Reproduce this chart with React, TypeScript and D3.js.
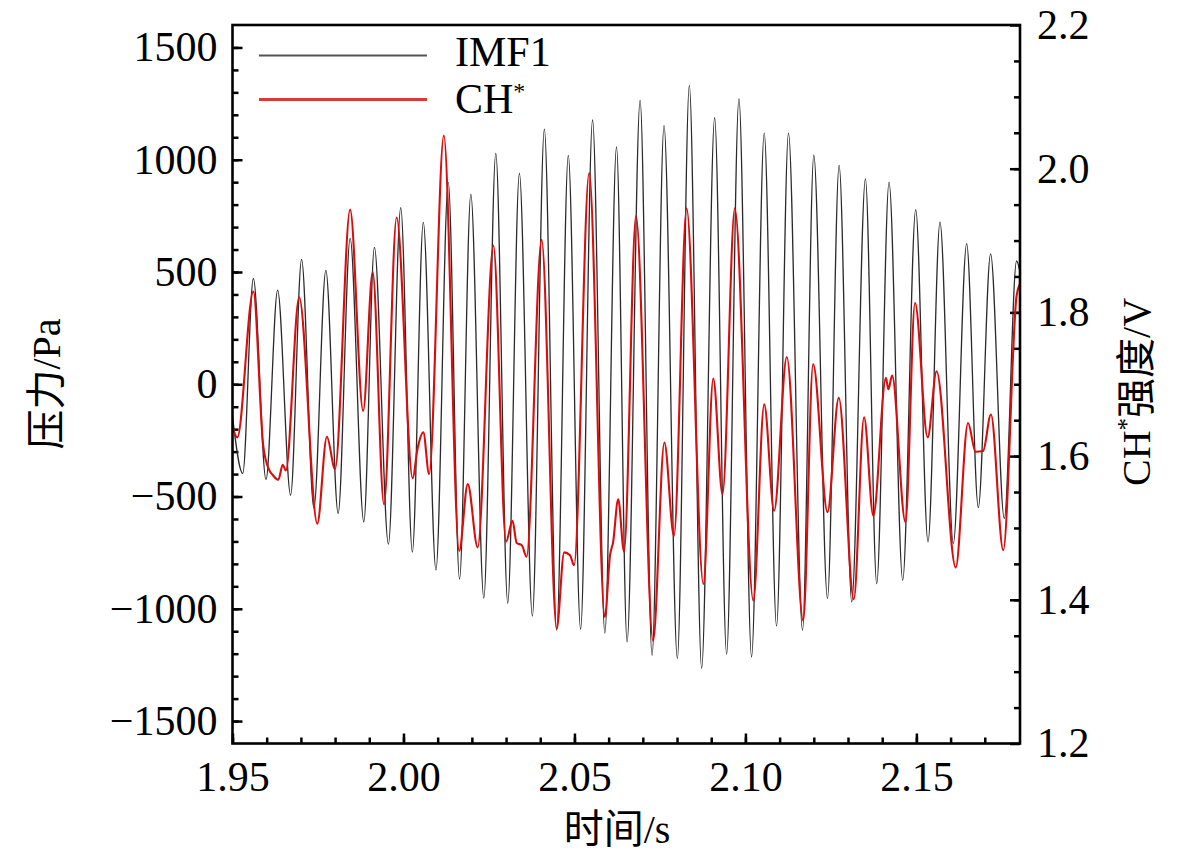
import { useRef, useEffect } from 'react';
import * as d3 from 'd3';

// IMF1 pressure component (Pa): extrema
const imfTime = [
  1.95, 1.953, 1.9561, 1.9598, 1.9632, 1.967, 1.9702, 1.9738, 1.9773, 1.9809,
  1.9844, 1.9884, 1.9915, 1.9956, 1.9992, 2.0026, 2.0058, 2.0095, 2.0131, 2.0164,
  2.0197, 2.0235, 2.027, 2.0305, 2.0339, 2.0377, 2.0412, 2.0448, 2.0482, 2.0518,
  2.0553, 2.0589, 2.0623, 2.0654, 2.0692, 2.0727, 2.0762, 2.0801, 2.0836, 2.0872,
  2.091, 2.0945, 2.0981, 2.1018, 2.1055, 2.1091, 2.1126, 2.1167, 2.12, 2.124,
  2.1274, 2.1311, 2.1351, 2.1384, 2.142, 2.146, 2.1498, 2.1534, 2.1569, 2.1608,
  2.1647, 2.1681, 2.1717, 2.1757, 2.1793, 2.1803,
];
const imfValue = [
  -144, -397, 471, -424, 419, -494, 556, -551, 507, -575,
  650, -613, 610, -712, 787, -747, 721, -828, 899, -868,
  847, -952, 1028, -975, 939, -1032, 1136, -1095, 1019, -1091,
  1177, -1108, 1057, -1147, 1264, -1207, 1152, -1221, 1331, -1265,
  1187, -1202, 1271, -1214, 1118, -1077, 1118, -1095, 1020, -954,
  975, -969, 915, -888, 900, -873, 778, -702, 722, -709,
  626, -549, 581, -598, 549, 500,
];

// CH* intensity (V)
const chTime = [
  1.95, 1.9514, 1.9561, 1.959, 1.9608, 1.9619, 1.9634, 1.9647, 1.9656, 1.9695,
  1.9748, 1.9776, 1.98, 1.9844, 1.9882, 1.991, 1.9943, 1.998, 2.0027, 2.0041,
  2.0058, 2.0075, 2.0118, 2.0163, 2.0188, 2.0217, 2.0263, 2.03, 2.0319, 2.0331,
  2.0346, 2.036, 2.0404, 2.0448, 2.047, 2.0487, 2.0499, 2.0543, 2.0589, 2.0604,
  2.0613, 2.0628, 2.0645, 2.068, 2.073, 2.0763, 2.0791, 2.0828, 2.0877, 2.0906,
  2.0933, 2.0969, 2.1023, 2.1055, 2.1084, 2.1121, 2.1169, 2.1198, 2.124, 2.1273,
  2.1317, 2.1347, 2.1374, 2.1411, 2.1418, 2.1429, 2.1468, 2.1496, 2.1533, 2.1559,
  2.1615, 2.1651, 2.1673, 2.1695, 2.1718, 2.1754, 2.1793, 2.1803,
];
const chValue = [
  1.64, 1.626, 1.829, 1.614, 1.58, 1.573, 1.567, 1.588, 1.58, 1.821,
  1.506, 1.627, 1.582, 1.943, 1.663, 1.856, 1.533, 1.932, 1.569, 1.61,
  1.633, 1.575, 2.046, 1.468, 1.561, 1.473, 1.893, 1.481, 1.51, 1.479,
  1.476, 1.46, 1.901, 1.36, 1.466, 1.462, 1.448, 1.994, 1.376, 1.462,
  1.48, 1.54, 1.467, 1.934, 1.343, 1.619, 1.489, 1.945, 1.422, 1.708,
  1.547, 1.945, 1.399, 1.672, 1.524, 1.738, 1.371, 1.728, 1.522, 1.681,
  1.401, 1.654, 1.517, 1.709, 1.693, 1.712, 1.508, 1.813, 1.626, 1.718,
  1.445, 1.646, 1.606, 1.607, 1.658, 1.469, 1.823, 1.84,
];

const xTicks = [1.95, 2.0, 2.05, 2.1, 2.15];
const leftTicks = [-1500, -1000, -500, 0, 500, 1000, 1500];
const rightTicks = [1.2, 1.4, 1.6, 1.8, 2.0, 2.2];

const SERIF = '"Liberation Serif", "Times New Roman", serif';
const CJK = '"Noto Sans CJK SC", sans-serif';

export default function App() {
  const svgRef = useRef<SVGSVGElement>(null);

  useEffect(() => {
    if (!svgRef.current) return;
    const svg = d3.select(svgRef.current);
    svg.selectAll('*').remove();

    const m = { left: 232.5, right: 1020, top: 25, bottom: 743.5 };

    const x = d3.scaleLinear().domain([1.95, 2.1803]).range([m.left, m.right]);
    const yL = d3.scaleLinear().domain([-1600, 1600]).range([m.bottom, m.top]);
    const yR = d3.scaleLinear().domain([1.2, 2.2]).range([m.bottom, m.top]);

    svg.append('defs').append('clipPath').attr('id', 'plot-clip')
      .append('rect')
      .attr('x', m.left).attr('y', m.top)
      .attr('width', m.right - m.left).attr('height', m.bottom - m.top);

    const styleAxis = (g: any) => {
      g.select('.domain').remove();
      g.selectAll('line').attr('stroke', '#000').attr('stroke-width', 2.5);
      g.selectAll('text').attr('fill', '#000').style('font-family', SERIF).style('font-size', '42px');
    };

    // minor ticks
    const xMinor = d3.range(0, 24).map(i => 1.95 + i * 0.01).filter(v => v < 2.18);
    const lMinor = d3.range(-15, 16).map(i => i * 100);
    const rMinor = d3.range(1, 20).map(i => 1.2 + i * 0.05);

    svg.append('g').attr('transform', `translate(0,${m.bottom})`)
      .call(d3.axisBottom(x).tickValues(xMinor).tickSize(-6).tickFormat(() => ''))
      .call(styleAxis);
    svg.append('g').attr('transform', `translate(${m.left},0)`)
      .call(d3.axisLeft(yL).tickValues(lMinor).tickSize(-6).tickFormat(() => ''))
      .call(styleAxis);
    svg.append('g').attr('transform', `translate(${m.right},0)`)
      .call(d3.axisRight(yR).tickValues(rMinor).tickSize(-6).tickFormat(() => ''))
      .call(styleAxis);

    // major ticks + labels
    svg.append('g').attr('transform', `translate(0,${m.bottom})`)
      .call(d3.axisBottom(x).tickValues(xTicks).tickSize(-10).tickPadding(18).tickFormat(d3.format('.2f') as any))
      .call(styleAxis);
    svg.append('g').attr('transform', `translate(${m.left},0)`)
      .call(d3.axisLeft(yL).tickValues(leftTicks).tickSize(-10).tickPadding(15).tickFormat(d3.format('d') as any))
      .call(styleAxis);
    svg.append('g').attr('transform', `translate(${m.right},0)`)
      .call(d3.axisRight(yR).tickValues(rightTicks).tickSize(-10).tickPadding(17).tickFormat(d3.format('.1f') as any))
      .call(styleAxis);

    // series
    const plot = svg.append('g').attr('clip-path', 'url(#plot-clip)');

    const imfLine = d3.line<number>()
      .x((_, i) => x(imfTime[i]))
      .y(d => yL(d))
      .curve(d3.curveMonotoneX);
    plot.append('path')
      .attr('d', imfLine(imfValue) as string)
      .attr('fill', 'none')
      .attr('stroke', '#2a2a2a')
      .attr('stroke-width', 1.3);

    const chLine = d3.line<number>()
      .x((_, i) => x(chTime[i]))
      .y(d => yR(d))
      .curve(d3.curveMonotoneX);
    plot.append('path')
      .attr('d', chLine(chValue) as string)
      .attr('fill', 'none')
      .attr('stroke', '#d80d0d')
      .attr('stroke-width', 2.1);

    // frame
    svg.append('rect')
      .attr('x', m.left).attr('y', m.top)
      .attr('width', m.right - m.left).attr('height', m.bottom - m.top)
      .attr('fill', 'none').attr('stroke', '#000').attr('stroke-width', 2.6);

    // legend
    const legend = svg.append('g').attr('font-family', SERIF).attr('font-size', 42);
    legend.append('line').attr('x1', 259).attr('x2', 427).attr('y1', 55.5).attr('y2', 55.5)
      .attr('stroke', '#555').attr('stroke-width', 2);
    legend.append('text').attr('x', 455).attr('y', 66).text('IMF1');
    legend.append('line').attr('x1', 259).attr('x2', 427).attr('y1', 99.5).attr('y2', 99.5)
      .attr('stroke', '#d83a3a').attr('stroke-width', 3);
    const chLbl = legend.append('text').attr('x', 455).attr('y', 113);
    chLbl.append('tspan').text('CH');
    chLbl.append('tspan').attr('dy', -14).attr('font-size', 24).text('*');

    // axis titles: CJK and Latin parts in separate tspans so each gets its own face
    const title = (t: any, parts: { s: string; cjk?: boolean; sup?: boolean }[]) => {
      let raised = false;
      parts.forEach(p => {
        const ts = t.append('tspan')
          .attr('font-family', p.cjk ? CJK : SERIF)
          .text(p.s);
        if (p.sup) { ts.attr('dy', -15).attr('font-size', 25); raised = true; }
        else if (raised) { ts.attr('dy', 15); raised = false; }
      });
    };

    const bt = svg.append('text')
      .attr('x', 617).attr('y', 843)
      .attr('text-anchor', 'middle')
      .attr('font-family', SERIF).attr('font-size', 40);
    title(bt, [{ s: '时间', cjk: true }, { s: '/s' }]);

    const lt = svg.append('text')
      .attr('transform', 'translate(60,384) rotate(-90)')
      .attr('text-anchor', 'middle')
      .attr('font-family', SERIF).attr('font-size', 40);
    title(lt, [{ s: '压力', cjk: true }, { s: '/Pa' }]);

    const rt = svg.append('text')
      .attr('transform', 'translate(1150,392) rotate(-90)')
      .attr('text-anchor', 'middle')
      .attr('font-family', SERIF).attr('font-size', 40);
    title(rt, [{ s: 'CH' }, { s: '*', sup: true }, { s: '强度', cjk: true }, { s: '/V' }]);
  }, []);

  return (
    <svg
      ref={svgRef}
      width={1181}
      height={859}
      style={{ position: 'absolute', left: 0, top: 0, background: '#fff' }}
    />
  );
}
